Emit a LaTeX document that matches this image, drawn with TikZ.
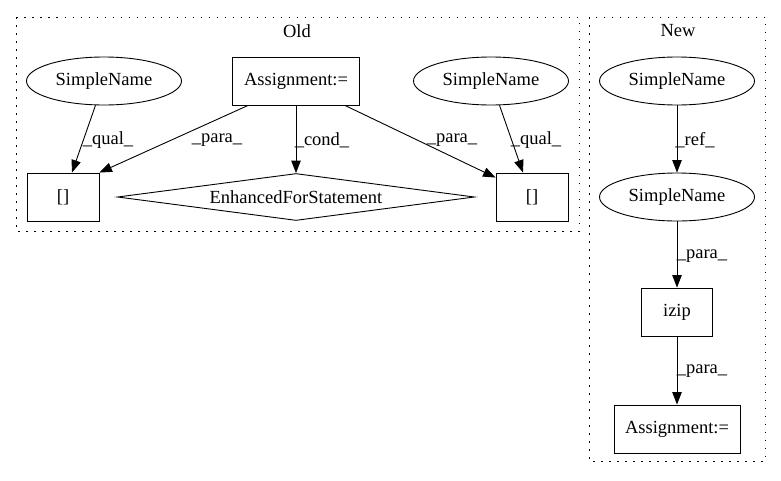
\documentclass[tikz,border=0pt]{standalone}
\usepackage{fontspec}
\setmainfont{Liberation Serif}
\usetikzlibrary{shapes.geometric,arrows.meta}
\begin{document}
\begin{tikzpicture}[x=1pt,y=-1pt,
  every node/.style={font=\fontsize{18.5}{21}\selectfont},
  ell/.style={draw,ellipse,line width=0.9pt,minimum width=155pt,minimum height=48pt,inner sep=0pt},
  box/.style={draw,rectangle,line width=0.9pt,minimum height=48pt,inner sep=0pt},
  dia/.style={draw,diamond,aspect=7.6,line width=0.9pt,minimum width=357pt,minimum height=47pt,inner sep=0pt},
  clus/.style={draw,line width=1pt,dash pattern=on 1.5pt off 6.5pt},
  arr/.style={line width=0.9pt,-{Triangle[length=12.5pt,width=9.5pt]}},
  lbl/.style={inner sep=0pt}]
\useasboundingbox (0,0) rectangle (781,480);
% clusters
\draw[clus] (16,17) rectangle (579,231);
\draw[clus] (589,17) rectangle (765,461);
\node[lbl] (oldl) at (297,31) {Old};
\node[lbl] (newl) at (678,31) {New};
% Old nodes
\node[ell] (sn1) at (104,81) {SimpleName};
\node[box,minimum width=127pt] (asg) at (296,81) {Assignment:=};
\node[ell] (sn2) at (491,81) {SimpleName};
\node[box,minimum width=72pt] (br1) at (63,197) {[]};
\node[dia] (efs) at (296,197) {EnhancedForStatement};
\node[box,minimum width=72pt] (br2) at (532,197) {[]};
% New nodes
\node[ell] (sn3) at (677,81) {SimpleName};
\node[ell] (sn4) at (677,197) {SimpleName};
\node[box,minimum width=71pt] (izip) at (677,312) {izip};
\node[box,minimum width=126pt] (asg2) at (677,429) {Assignment:=};
% Old edges
\draw[arr] (sn1) -- ([xshift=9pt]br1.north);
\draw[arr] ([xshift=-48pt]asg.south) -- (br1.north east);
\draw[arr] (asg) -- (efs.north);
\draw[arr] ([xshift=49pt]asg.south) -- ([yshift=-5pt]br2.north west);
\draw[arr] (sn2) -- ([xshift=-9pt]br2.north);
% New edges
\draw[arr] (sn3) -- (sn4);
\draw[arr] (sn4) -- (izip);
\draw[arr] (izip) -- (asg2);
% edge labels
\node[lbl] (l1) at (108,140) {\_qual\_};
\node[lbl] (l2) at (217,140) {\_para\_};
\node[lbl] (l3) at (322,140) {\_cond\_};
\node[lbl] (l4) at (452,140) {\_para\_};
\node[lbl] (l5) at (536,140) {\_qual\_};
\node[lbl] (l6) at (695,140) {\_ref\_};
\node[lbl] (l7) at (702,256) {\_para\_};
\node[lbl] (l8) at (702,371) {\_para\_};
\end{tikzpicture}
\end{document}
